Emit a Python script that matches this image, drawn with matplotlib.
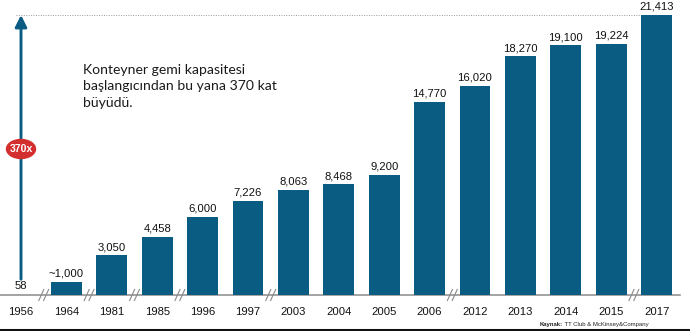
import matplotlib
matplotlib.use('Agg')
import matplotlib.pyplot as plt
from matplotlib.patches import Ellipse
from matplotlib.lines import Line2D

years = ['1956', '1964', '1981', '1985', '1996', '1997', '2003', '2004',
         '2005', '2006', '2012', '2013', '2014', '2015', '2017']
capacity = [58, 1000, 3050, 4458, 6000, 7226, 8063, 8468,
            9200, 14770, 16020, 18270, 19100, 19224, 21413]
value_labels = ['58', '~1,000', '3,050', '4,458', '6,000', '7,226', '8,063', '8,468',
                '9,200', '14,770', '16,020', '18,270', '19,100', '19,224', '21,413']
# gaps in the time axis sit after these positions
breaks_after = [0, 1, 2, 3, 5, 9, 13]
growth_label = '370x'
note = 'Konteyner gemi kapasitesi\nbaşlangıcından bu yana 370 kat\nbüyüdü.'

blue = '#0b5c83'
red = '#d42f2f'
grey = '#8a8a8a'

W, H = 690, 331
fig = plt.figure(figsize=(W / 100, H / 100), dpi=100)
ax = fig.add_axes([0, 0, 1, 1])
ax.axis('off')

# layout: category spacing and vertical scale in pixels
x0_px, step_px = 21, 45.4
base_px, top_px = 295, 15
top_val = max(capacity)
per_px = top_val / (base_px - top_px)
ax.set_xlim(-x0_px / step_px, (W - x0_px) / step_px)
ax.set_ylim(-(H - base_px) * per_px, base_px * per_px)
px = 1 / step_px

xs = list(range(len(years)))

# first year is drawn as the growth arrow, the rest as bars
ax.bar(xs[1:], capacity[1:], width=0.68, color=blue, zorder=2)

for x, v, lab in zip(xs, capacity, value_labels):
    ax.annotate(lab, (x, v), xytext=(0, 2.2), textcoords='offset points',
                ha='center', va='bottom', fontsize=8.1, family='Liberation Sans',
                color='#111111')

for x, yr in zip(xs, years):
    ax.annotate(yr, (x, 0), xytext=(0, -8.3), textcoords='offset points',
                ha='center', va='top', fontsize=8.1, family='Liberation Sans',
                color='#111111')

# baseline with break marks
ax.axhline(0, xmin=0, xmax=0.986, color=grey, lw=1.1, zorder=1)
for b in breaks_after:
    xb = b + 0.5
    for dx in (-2.4, 2.4):
        ax.add_line(Line2D([xb + (dx - 2.5) * px, xb + (dx + 2.5) * px],
                           [-5.5 * per_px, 5.5 * per_px], color=grey, lw=0.8, zorder=3))

# dotted reference line at the top value
ax.plot([-0.1, len(years) - 1 - 0.34], [top_val, top_val], ls=(0, (1, 1.5)),
        color='#999999', lw=0.7, zorder=1)

# growth arrow from the 1956 value up to the top
ax.annotate('', xy=(0, top_val), xytext=(0, capacity[0] + 15 * per_px),
            arrowprops=dict(arrowstyle='-|>,head_length=0.5,head_width=0.25',
                            color=blue, lw=2.1, mutation_scale=14,
                            shrinkA=0, shrinkB=0), zorder=3)
ey = top_val * 0.5215
ax.add_patch(Ellipse((0, ey), 29 * px, 19 * per_px, color=red, zorder=4))
ax.text(0, ey, growth_label, ha='center', va='center', color='white',
        fontsize=7.6, fontweight='bold', family='Liberation Sans', zorder=5)

ax.text(1.36, 17650, note, ha='left', va='top', fontsize=10.1, family='Lato',
        color='#1a1a1a', linespacing=1.42)

# source note
src = fig.text(540 / W, 1 - 326 / H, 'Kaynak:', fontsize=4.3, fontweight='bold',
               family='Liberation Sans', ha='left', va='baseline', color='#222222')
ax.annotate(' TT Club & McKinsey&Company', xy=(1, 0), xycoords=src,
            fontsize=4.3, family='Liberation Sans', ha='left', va='bottom',
            color='#222222')

# dark rule along the bottom edge
fig.add_artist(Line2D([0, 1], [1 / H, 1 / H], transform=fig.transFigure,
                      color='#111111', lw=2.2))

fig.savefig('out.png', dpi=100)
